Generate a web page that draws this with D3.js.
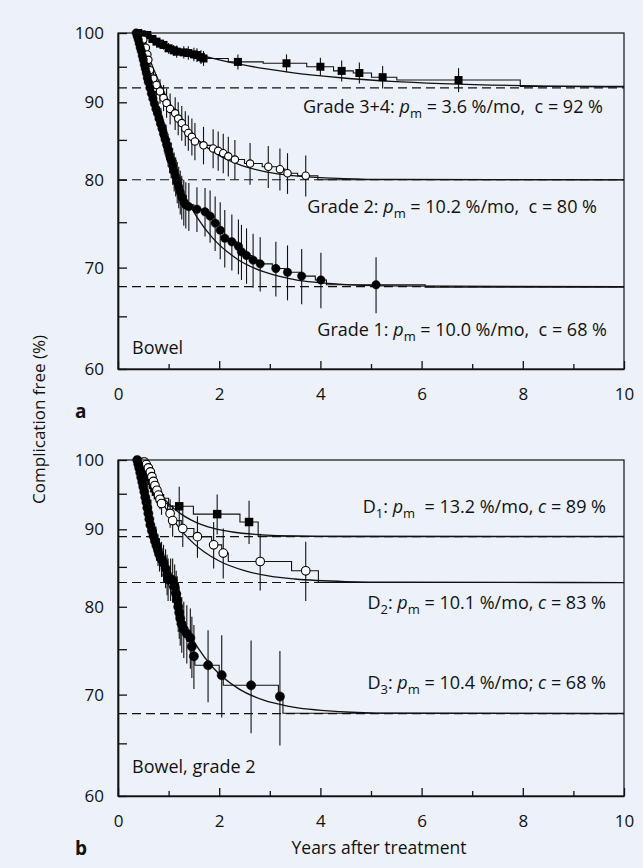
<!DOCTYPE html>
<html>
<head>
<meta charset="utf-8">
<script src="https://cdn.jsdelivr.net/npm/d3@7"></script>
<style>
  body { margin: 0; background: #edf1f9; }
  svg { display: block; font-family: "Open Sans", sans-serif; }
</style>
</head>
<body>
<svg id="chart" width="643" height="868"></svg>
<script>
// ---- Data (years after treatment, % complication free, error half-width) ----
const yearTicks = [0, 2, 4, 6, 8, 10];
const yearMinor = [1, 3, 5, 7, 9];
const pctTicks = [60, 70, 80, 90, 100];
const pctMinor = [65, 75, 85, 95];

// panel a: bowel by grade
const g34Pts = [[0.40,100,0.2],[0.47,99.8,0.3],[0.58,99.7,0.4],[0.68,99.1,0.5],[0.76,98.7,0.6],[0.83,98.4,0.6],[0.90,98.2,0.7],[1.00,97.7,0.8],[1.10,97.4,0.8],[1.16,97.2,0.9],[1.30,97.1,0.9],[1.39,97.0,1.0],[1.50,96.8,1.0],[1.56,96.7,1.0],[1.64,96.4,1.0],[1.69,96.2,1.1],[2.37,95.7,1.1],[3.33,95.5,1.3],[4.00,95.0,1.3],[4.42,94.4,1.5],[4.77,94.1,1.5],[5.23,93.5,1.6],[6.73,93.1,1.7]];
const g34Km = [[0.38,100],[0.55,99.7],[0.66,99.1],[0.75,98.7],[0.82,98.4],[0.88,98.2],[0.97,97.7],[1.07,97.4],[1.14,97.2],[1.28,97.1],[1.37,97.0],[1.48,96.8],[1.54,96.7],[1.62,96.4],[1.67,96.2],[2.18,95.7],[2.87,95.5],[3.73,95.0],[4.26,94.4],[4.65,94.1],[5.01,93.5],[5.51,93.1],[7.95,92.2],[10,92.2]];
const g34Fit = [[0.4,100],[0.5,99.66],[0.6,99.34],[0.8,98.73],[1.0,98.17],[1.2,97.66],[1.4,97.19],[1.7,96.56],[2.0,96.01],[2.4,95.37],[2.9,94.72],[3.4,94.19],[4.4,93.42],[5.4,92.92],[6.4,92.60],[7.4,92.39],[8.4,92.25],[10,92.13]];

const g2Pts = [[0.50,99.0,0.6],[0.55,97.8,0.8],[0.58,96.8,1.0],[0.60,96.0,1.1],[0.63,94.5,1.2],[0.70,93.3,1.4],[0.76,92.4,1.5],[0.83,91.5,1.7],[0.90,90.6,1.8],[0.96,89.9,2.0],[1.03,89.1,2.1],[1.13,88.5,2.2],[1.19,87.8,2.2],[1.26,87.2,2.3],[1.33,86.5,2.3],[1.39,85.9,2.3],[1.46,85.4,2.4],[1.52,84.8,2.4],[1.69,84.3,2.4],[1.88,83.9,2.5],[1.98,83.6,2.5],[2.08,83.3,2.5],[2.18,82.9,2.5],[2.31,82.5,2.5],[2.61,82.0,2.6],[2.97,81.6,2.6],[3.20,81.3,2.6],[3.35,80.8,2.5],[3.71,80.5,2.5]];
const g2Km = [[0.45,100],[0.50,99.0],[0.55,97.8],[0.58,96.8],[0.60,96.0],[0.63,94.5],[0.70,93.3],[0.76,92.4],[0.83,91.5],[0.90,90.6],[0.96,89.9],[1.03,89.1],[1.13,88.5],[1.19,87.8],[1.26,87.2],[1.33,86.5],[1.39,85.9],[1.46,85.4],[1.52,84.8],[1.62,84.3],[1.85,83.9],[1.95,83.6],[2.05,83.3],[2.15,82.9],[2.25,82.5],[2.50,82.0],[2.85,81.6],[3.15,81.3],[3.30,80.8],[3.55,80.5],[3.95,80.0],[10,80.0]];
const g2Fit = [[0.45,100],[0.5,98.81],[0.55,97.70],[0.65,95.66],[0.75,93.85],[0.85,92.26],[0.95,90.85],[1.05,89.60],[1.25,87.51],[1.45,85.88],[1.65,84.60],[1.95,83.19],[2.45,81.73],[2.95,80.94],[3.45,80.51],[4.45,80.15],[5.45,80.04],[10,80.0]];

const g1Pts = [[0.36,100,0.2],[0.38,99.5,0.3],[0.40,99.0,0.4],[0.42,98.4,0.5],[0.44,97.8,0.6],[0.46,97.3,0.7],[0.48,96.6,0.8],[0.50,96.0,0.9],[0.52,95.3,1.0],[0.54,94.7,1.0],[0.56,94.1,1.1],[0.58,93.4,1.2],[0.60,92.8,1.2],[0.63,92.0,1.3],[0.66,91.2,1.4],[0.69,90.5,1.4],[0.72,89.8,1.5],[0.75,89.1,1.6],[0.78,88.5,1.6],[0.81,87.8,1.7],[0.84,87.1,1.8],[0.87,86.5,1.8],[0.90,85.8,1.9],[0.93,85.1,2.0],[0.96,84.4,2.0],[0.99,83.7,2.1],[1.02,83.0,2.2],[1.05,82.4,2.2],[1.08,81.7,2.3],[1.11,81.0,2.4],[1.14,80.4,2.4],[1.17,79.7,2.5],[1.20,79.1,2.5],[1.23,78.5,2.6],[1.26,77.9,2.6],[1.30,77.3,2.7],[1.34,77.0,2.7],[1.40,76.8,2.8],[1.56,76.5,2.6],[1.72,76.2,2.8],[1.82,75.7,3.0],[1.92,74.9,3.1],[2.02,74.1,3.2],[2.11,73.2,3.2],[2.25,72.8,3.1],[2.38,72.3,3.0],[2.44,71.7,3.0],[2.54,71.3,3.0],[2.67,70.8,2.9],[2.81,70.4,2.9],[3.12,69.9,2.9],[3.35,69.5,2.9],[3.63,69.1,2.9],[4.01,68.7,2.9],[5.10,68.2,2.9]];
const g1Km = [[0.36,100],[0.45,97.5],[0.55,94.4],[0.65,91.5],[0.75,89.1],[0.85,86.9],[0.95,84.6],[1.05,82.4],[1.15,80.2],[1.25,78.1],[1.35,77.0],[1.50,76.5],[1.70,76.2],[1.80,75.7],[1.90,74.9],[2.00,74.1],[2.10,73.2],[2.20,72.8],[2.35,72.3],[2.43,71.7],[2.52,71.3],[2.65,70.8],[2.78,70.4],[3.05,69.9],[3.30,69.5],[3.60,69.1],[3.90,68.7],[4.12,68.2],[6.07,67.95],[10,67.95]];
const g1Fit = [[0.36,100],[0.41,98.14],[0.46,96.38],[0.56,93.17],[0.66,90.33],[0.76,87.80],[0.86,85.56],[0.96,83.58],[1.16,80.25],[1.36,77.64],[1.56,75.58],[1.86,73.29],[2.36,70.90],[2.86,69.59],[3.36,68.87],[4.36,68.26],[5.36,68.08],[10,68.0]];

// panel b: bowel grade 2 by dose group
const d1Pts = [[0.47,99.7,0.4],[0.51,99.2,0.5],[0.55,98.5,0.6],[0.59,98.0,0.7],[0.62,97.5,0.8],[0.66,96.9,0.9],[0.69,96.3,1.0],[0.72,95.8,1.1],[0.75,95.3,1.2],[0.79,94.8,1.3],[0.83,94.35,1.4],[1.21,93.2,2.8],[1.96,92.1,2.8],[2.59,91.0,3.0]];
const d1Km = [[0.45,100],[0.47,99.7],[0.51,99.2],[0.55,98.5],[0.59,98.0],[0.62,97.5],[0.66,96.9],[0.69,96.3],[0.72,95.8],[0.75,95.3],[0.79,94.8],[0.83,94.35],[1.00,93.2],[1.49,92.1],[2.41,91.0],[2.77,89.05],[10,89.05]];
const d1Fit = [[0.45,100],[0.5,99.16],[0.55,98.39],[0.65,97.01],[0.75,95.84],[0.85,94.84],[0.95,93.98],[1.05,93.25],[1.25,92.10],[1.45,91.26],[1.65,90.64],[1.95,90.02],[2.45,89.46],[2.95,89.21],[3.45,89.10],[4.45,89.02],[10,89.0]];

const d2Pts = [[0.52,99.7,0.4],[0.56,99.3,0.5],[0.60,98.8,0.6],[0.64,98.2,0.8],[0.67,97.5,0.9],[0.70,96.8,1.0],[0.73,96.2,1.1],[0.77,95.5,1.2],[0.80,94.8,1.3],[0.83,94.2,1.4],[0.86,93.6,1.6],[1.03,92.2,2.0],[1.08,91.2,2.2],[1.28,90.1,2.5],[1.57,89.0,2.8],[1.89,87.9,3.1],[2.08,86.8,3.3],[2.81,85.7,3.7],[3.71,84.5,3.8]];
const d2Km = [[0.5,100],[0.52,99.7],[0.56,99.3],[0.60,98.8],[0.64,98.2],[0.67,97.5],[0.70,96.8],[0.73,96.2],[0.77,95.5],[0.80,94.8],[0.83,94.2],[0.86,93.6],[0.98,92.2],[1.08,91.2],[1.25,90.1],[1.50,89.0],[1.85,87.9],[2.05,86.8],[2.18,85.7],[3.43,84.5],[3.96,83.0],[10,83.0]];
const d2Fit = [[0.5,100],[0.55,99.0],[0.6,98.06],[0.7,96.34],[0.8,94.82],[0.9,93.47],[1.0,92.27],[1.1,91.22],[1.3,89.45],[1.5,88.06],[1.7,86.97],[2.0,85.76],[2.5,84.51],[3.0,83.82],[3.5,83.45],[4.5,83.13],[5.5,83.04],[10,83.0]];

const d3Pts = [[0.38,100,0.3],[0.40,99.4,0.4],[0.42,98.8,0.5],[0.44,98.1,0.6],[0.46,97.4,0.7],[0.48,96.7,0.8],[0.50,96.0,0.9],[0.52,95.3,1.0],[0.54,94.5,1.1],[0.56,93.8,1.2],[0.58,93.0,1.3],[0.60,92.2,1.4],[0.62,91.4,1.5],[0.64,90.6,1.6],[0.67,89.8,1.7],[0.70,89.1,1.8],[0.73,88.4,1.9],[0.76,87.8,2.0],[0.79,87.2,2.1],[0.82,86.6,2.2],[0.86,86.0,2.3],[0.90,85.5,2.4],[0.94,84.8,2.5],[0.97,84.0,2.6],[0.99,83.4,2.7],[1.04,83.4,2.7],[1.08,83.3,2.8],[1.12,82.5,2.8],[1.15,81.6,2.9],[1.17,80.8,3.0],[1.19,80.0,3.0],[1.21,79.3,3.1],[1.23,78.6,3.2],[1.26,77.9,3.3],[1.30,77.3,3.3],[1.36,76.8,3.4],[1.43,76.3,3.5],[1.46,75.3,3.5],[1.50,74.2,3.6],[1.78,73.2,4.0],[2.05,72.1,4.5],[2.63,71.0,5.0],[3.20,69.8,5.0]];
const d3Km = [[0.38,100],[0.45,97.7],[0.55,94.1],[0.65,90.3],[0.75,88.0],[0.85,86.2],[0.95,84.6],[0.99,83.4],[1.10,82.5],[1.16,81.0],[1.20,79.6],[1.25,78.2],[1.33,77.0],[1.43,76.3],[1.46,75.3],[1.50,74.2],[1.52,73.2],[2.00,72.1],[2.08,71.0],[3.17,69.8],[3.26,68.05],[10,68.05]];
const d3Fit = [[0.38,100],[0.43,98.06],[0.48,96.25],[0.58,92.93],[0.68,90.01],[0.78,87.42],[0.88,85.15],[0.98,83.13],[1.18,79.79],[1.38,77.19],[1.58,75.16],[1.88,72.92],[2.38,70.64],[2.88,69.41],[3.38,68.76],[4.38,68.22],[5.38,68.06],[10,68.0]];

// cure fractions (dashed lines)
const cureA = [92, 80, 68];
const cureB = [89, 83, 68];

// annotation texts: [text, style] with style "" | "i" (italic) | "s" (subscript)
const labelsA = [
  [["Grade 3+4: ",""],["p","i"],["m","s"],[" = 3.6 %/mo,\u00a0 c = 92 %",""]],
  [["Grade 2: ",""],["p","i"],["m","s"],[" = 10.2 %/mo,\u00a0 c = 80 %",""]],
  [["Grade 1: ",""],["p","i"],["m","s"],[" = 10.0 %/mo,\u00a0 c = 68 %",""]]
];
const labelsB = [
  [["D",""],["1","s"],[": ",""],["p","i"],["m","s"],["\u00a0 = 13.2 %/mo, ",""],["c","i"],[" = 89 %",""]],
  [["D",""],["2","s"],[": ",""],["p","i"],["m","s"],[" = 10.1 %/mo, ",""],["c","i"],[" = 83 %",""]],
  [["D",""],["3","s"],[": ",""],["p","i"],["m","s"],[" = 10.4 %/mo; ",""],["c","i"],[" = 68 %",""]]
];

// ---- Layout ----
const svg = d3.select("#chart");
const x = d3.scaleLinear().domain([0, 10]).range([118, 624]);

const panels = [
  { top: 33, bottom: 369, letter: "a", letterY: 418, note: "Bowel", noteY: 354,
    cure: cureA, labels: labelsA, labelRight: [603, 597, 607], labelY: [113, 213, 336],
    series: [
      { pts: g34Pts, km: g34Km, fit: g34Fit, mark: "square", size: 8 },
      { pts: g2Pts, km: g2Km, fit: g2Fit, mark: "open", size: 3.7 },
      { pts: g1Pts, km: g1Km, fit: g1Fit, mark: "dot", size: 4.2 }
    ] },
  { top: 460, bottom: 796, letter: "b", letterY: 855, note: "Bowel, grade 2", noteY: 773,
    cure: cureB, labels: labelsB, labelRight: [606, 606, 606], labelY: [513, 609, 689],
    series: [
      { pts: d1Pts, km: d1Km, fit: d1Fit, mark: "square", size: 8.5 },
      { pts: d2Pts, km: d2Km, fit: d2Fit, mark: "open", size: 4.3 },
      { pts: d3Pts, km: d3Km, fit: d3Fit, mark: "dot", size: 4.6 }
    ] }
];

panels.forEach(p => {
  const y = d3.scaleLog().domain([60, 100]).range([p.bottom, p.top]);
  const g = svg.append("g");

  // cure fraction reference lines
  g.selectAll("line.cure").data(p.cure).join("line")
    .attr("class", "cure")
    .attr("x1", x(0)).attr("x2", x(10))
    .attr("y1", d => y(d)).attr("y2", d => y(d))
    .attr("stroke", "#111").attr("stroke-width", 1.1)
    .attr("stroke-dasharray", "9,5");

  const stepLine = d3.line().x(d => x(d[0])).y(d => y(d[1])).curve(d3.curveStepAfter);
  const fitLine = d3.line().x(d => x(d[0])).y(d => y(d[1])).curve(d3.curveMonotoneX);

  p.series.forEach(s => {
    g.append("path").attr("d", stepLine(s.km))
      .attr("fill", "none").attr("stroke", "#111").attr("stroke-width", 1.1);
    g.append("path").attr("d", fitLine(s.fit))
      .attr("fill", "none").attr("stroke", "#111").attr("stroke-width", 1.3);
  });

  // error bars
  p.series.forEach(s => {
    g.append("g").selectAll("line").data(s.pts).join("line")
      .attr("x1", d => x(d[0])).attr("x2", d => x(d[0]))
      .attr("y1", d => y(Math.min(100, d[1] + d[2])))
      .attr("y2", d => y(d[1] - d[2]))
      .attr("stroke", "#111").attr("stroke-width", 1.1);
  });

  // markers
  p.series.forEach(s => {
    const mg = g.append("g");
    if (s.mark === "square") {
      mg.selectAll("rect").data(s.pts).join("rect")
        .attr("x", d => x(d[0]) - s.size / 2).attr("y", d => y(d[1]) - s.size / 2)
        .attr("width", s.size).attr("height", s.size).attr("fill", "#000");
    } else {
      mg.selectAll("circle").data(s.pts).join("circle")
        .attr("cx", d => x(d[0])).attr("cy", d => y(d[1])).attr("r", s.size)
        .attr("fill", s.mark === "open" ? "#fff" : "#000")
        .attr("stroke", "#000").attr("stroke-width", s.mark === "open" ? 1.1 : 0.5);
    }
  });

  // frame
  g.append("rect").attr("x", x(0)).attr("y", p.top)
    .attr("width", x(10) - x(0)).attr("height", p.bottom - p.top)
    .attr("fill", "none").attr("stroke", "#111").attr("stroke-width", 1.2);

  // axes with inward ticks
  g.append("g").attr("transform", `translate(${x(0)},0)`)
    .call(d3.axisLeft(y).tickValues(pctTicks).tickFormat(d3.format("d")).tickSize(-9).tickSizeOuter(0).tickPadding(14));
  g.append("g").attr("transform", `translate(${x(0)},0)`)
    .call(d3.axisLeft(y).tickValues(pctMinor).tickFormat("").tickSize(-9).tickSizeOuter(0))
    .select(".domain").remove();
  g.append("g").attr("transform", `translate(0,${p.bottom})`)
    .call(d3.axisBottom(x).tickValues(yearTicks).tickSize(-8).tickSizeOuter(0).tickPadding(19));
  g.append("g").attr("transform", `translate(0,${p.bottom})`)
    .call(d3.axisBottom(x).tickValues(yearMinor).tickFormat("").tickSize(-5).tickSizeOuter(0))
    .select(".domain").remove();

  g.selectAll(".domain").attr("stroke", "#111").attr("stroke-width", 1.7);
  g.selectAll(".tick line").attr("stroke", "#111").attr("stroke-width", 1.3);
  g.selectAll(".tick text").attr("font-family", "'Open Sans', sans-serif")
    .attr("font-size", 17).attr("fill", "#111");

  // annotations
  p.labels.forEach((parts, i) => {
    const t = g.append("text").attr("x", p.labelRight[i]).attr("y", p.labelY[i])
      .attr("text-anchor", "end").attr("font-size", 18).attr("fill", "#111");
    let shifted = false;
    parts.forEach(([txt, st]) => {
      const ts = t.append("tspan").text(txt);
      if (st === "i") ts.attr("font-style", "italic");
      if (st === "s") { ts.attr("font-size", 13).attr("dy", shifted ? 0 : 5); shifted = true; }
      else if (shifted) { ts.attr("dy", -5); shifted = false; }
    });
  });

  g.append("text").attr("x", 132).attr("y", p.noteY)
    .attr("font-size", 18).attr("fill", "#111").text(p.note);
  g.append("text").attr("x", 75).attr("y", p.letterY)
    .attr("font-size", 19).attr("font-weight", "bold").attr("fill", "#111").text(p.letter);
});

svg.append("text").attr("x", 379).attr("y", 854).attr("text-anchor", "middle")
  .attr("font-size", 17.5).attr("fill", "#111").text("Years after treatment");
svg.append("text").attr("transform", "translate(45,335) rotate(-90)")
  .attr("text-anchor", "end").attr("font-size", 17).attr("fill", "#111")
  .text("Complication free (%)");
</script>
</body>
</html>
